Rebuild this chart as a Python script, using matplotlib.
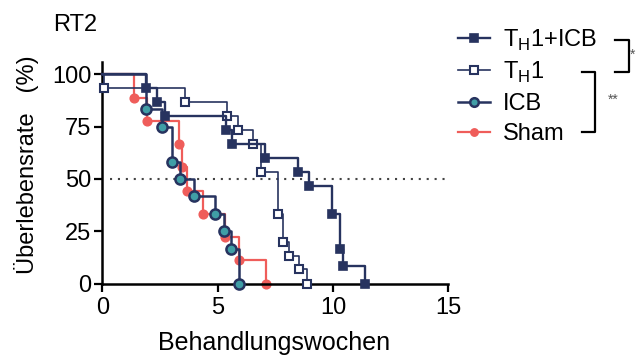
import matplotlib.pyplot as plt
from matplotlib.lines import Line2D

plt.rcParams['font.family'] = ['Liberation Sans', 'DejaVu Sans']
plt.rcParams['mathtext.fontset'] = 'custom'
plt.rcParams['mathtext.rm'] = 'Liberation Sans'

# Kaplan-Meier steps (weeks, survival %)
th1icb_weeks = [1.88, 2.38, 2.73, 5.36, 5.62, 7.05, 8.5, 8.95, 9.94, 10.3, 10.42, 11.39]
th1icb_surv = [93.3, 86.7, 80.0, 73.3, 66.7, 60.0, 53.3, 46.7, 33.3, 16.7, 8.3, 0]

th1_weeks = [0.07, 3.59, 5.39, 5.9, 6.55, 6.88, 7.63, 7.85, 8.11, 8.54, 8.89]
th1_surv = [93.3, 86.7, 80.0, 73.3, 66.7, 53.3, 33.3, 20.0, 13.3, 6.7, 0]

icb_weeks = [1.89, 2.57, 3.0, 3.37, 3.97, 4.9, 5.26, 5.58, 5.94]
icb_surv = [83.3, 75.0, 58.3, 50.0, 41.7, 33.3, 25.0, 16.7, 0]

sham_weeks = [1.39, 1.95, 3.34, 3.44, 3.66, 4.38, 5.34, 5.92, 7.11]
sham_surv = [88.9, 77.8, 66.7, 55.6, 44.4, 33.3, 22.2, 11.1, 0]

labels = ["T$_\\mathregular{H}$1+ICB", "T$_\\mathregular{H}$1", "ICB", "Sham"]

navy = "#27335f"
red = "#ef5d5a"
teal = "#409ea6"

W, H = 636, 355
fig = plt.figure(figsize=(W / 100, H / 100), dpi=100)
ax = fig.add_axes([102.3 / W, 1 - 283.5 / H, 346 / W, 221.8 / H])


def px(x, y):
    return x / W, 1 - y / H


styles = [
    dict(color=navy, lw=1.7, marker="s", mfc=navy, mec=navy, ms=6.3, mew=1.2),
    dict(color=navy, lw=1.2, marker="s", mfc="white", mec=navy, ms=6.3, mew=1.5),
    dict(color=navy, lw=1.8, marker="o", mfc=teal, mec=navy, ms=7.3, mew=1.8),
    dict(color=red, lw=1.6, marker="o", mfc=red, mec=red, ms=6.3, mew=1.0),
]
series = [(th1icb_weeks, th1icb_surv), (th1_weeks, th1_surv),
          (icb_weeks, icb_surv), (sham_weeks, sham_surv)]

# draw sham first so it sits underneath
for i in [3, 2, 1, 0]:
    t, s = series[i]
    st = styles[i]
    ax.step([0] + t, [100] + s, where="post", color=st["color"], lw=st["lw"],
            zorder=2 + (3 - i), clip_on=False)
    ax.plot(t, s, ls="none", marker=st["marker"], mfc=st["mfc"], mec=st["mec"],
            ms=st["ms"], mew=st["mew"], zorder=2.5 + (3 - i), clip_on=False)

ax.axhline(50, xmin=0.34 / 15, xmax=1, color="#444444", lw=1.5,
           ls=(0, (1, 2.8)), zorder=1)

ax.set_xlim(0, 15)
ax.set_ylim(0, 106.1)
ax.set_xticks([0, 5, 10, 15])
ax.set_yticks([0, 25, 50, 75, 100])
for sp in ["top", "right"]:
    ax.spines[sp].set_visible(False)
for sp in ["left", "bottom"]:
    ax.spines[sp].set_linewidth(1.8)
ax.tick_params(axis="both", length=6, width=1.6, labelsize=17, direction="out")
ax.tick_params(axis="x", pad=4)
ax.tick_params(axis="y", pad=2)

fig.text(*px(274, 343), "Behandlungswochen", fontsize=18, ha="center", va="center")
fig.text(*px(27, 165), "Überlebensrate   (%)", fontsize=17, rotation=90,
         ha="center", va="center")
fig.text(*px(53, 25), "RT2", fontsize=17, ha="left", va="center")

# legend drawn by hand
rows = [38, 70, 102, 132]
for i, yr in enumerate(rows):
    st = styles[i]
    x0, y0 = px(458, yr)
    x1, _ = px(490, yr)
    xm, _ = px(474, yr)
    fig.add_artist(Line2D([x0, x1], [y0, y0], color=st["color"], lw=st["lw"]))
    fig.add_artist(Line2D([xm], [y0], ls="none", marker=st["marker"], mfc=st["mfc"],
                          mec=st["mec"], ms=st["ms"] * 0.85, mew=st["mew"]))
    fig.text(*px(503, yr + 8.5), labels[i], fontsize=17, ha="left", va="baseline")

# significance brackets
def bracket(xl, xr, yt, yb):
    xs = [px(xl, yt)[0], px(xr, yt)[0], px(xr, yb)[0], px(xl, yb)[0]]
    ys = [px(xl, yt)[1], px(xr, yt)[1], px(xr, yb)[1], px(xl, yb)[1]]
    fig.add_artist(Line2D(xs, ys, color="black", lw=1.6))


bracket(615, 629, 39.5, 71.5)
bracket(582, 595, 71.5, 132)
fig.text(*px(613, 100), "**", fontsize=10, color="#555555", ha="center", va="center")
fig.text(*px(635.5, 55), "*", fontsize=10, color="#555555", ha="right", va="center")

fig.savefig("out.png", dpi=100)
